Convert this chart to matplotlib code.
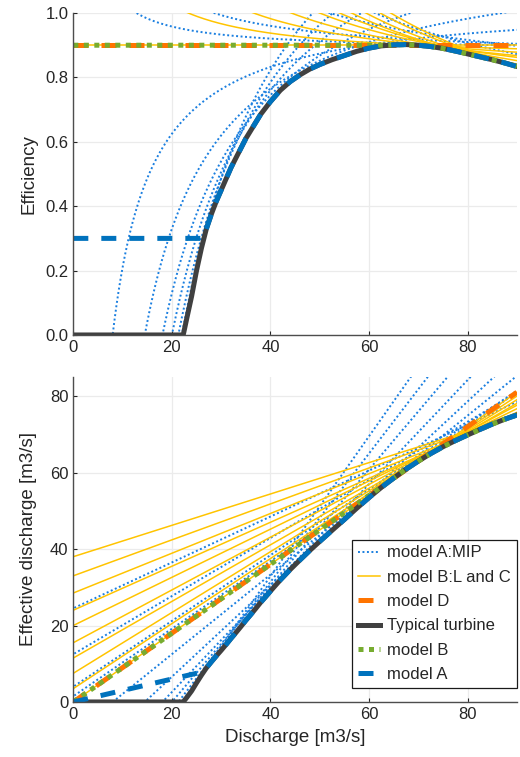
import numpy as np
import matplotlib
matplotlib.use("Agg")
import matplotlib.pyplot as plt

plt.rcParams['font.family'] = ['Liberation Sans', 'DejaVu Sans']

# typical turbine efficiency curve
q_turb = [0, 22.3, 23, 24, 25, 26, 27, 28, 29, 30, 31, 32, 33, 34, 35, 36, 37,
          38, 39, 40, 42, 44, 46, 48, 50, 52.5, 55, 57.5, 60, 62.5, 65, 67.5,
          70, 72.5, 75, 77.5, 80, 82.5, 85, 87.5, 90]
eta_turb = [0, 0, 0.05, 0.12, 0.20, 0.27, 0.33, 0.375, 0.415, 0.45, 0.485,
            0.52, 0.55, 0.58, 0.61, 0.635, 0.66, 0.685, 0.705, 0.725, 0.76,
            0.787, 0.808, 0.826, 0.84, 0.855, 0.868, 0.881, 0.891, 0.898,
            0.901, 0.902, 0.90, 0.896, 0.89, 0.882, 0.873, 0.864, 0.855,
            0.845, 0.834]

# model A: flat 0.3 then follows the turbine
i_a = q_turb.index(27)
q_a = [0, 26.4] + q_turb[i_a:]
eta_a = [0.3, 0.3] + eta_turb[i_a:]

# model B: flat 0.9 until it meets the turbine
i_b = q_turb.index(65)
q_b = [0, 63] + q_turb[i_b:]
eta_b = [0.9, 0.9] + eta_turb[i_b:]

# model D: constant 0.9
q_d = [0, 90]
eta_d = [0.9, 0.9]

# linear pieces, effective discharge = intercept + slope * Q
mip_intercept = [-8.3, -17.4, -24.6, -30.4, -35.8, -40.3, 1.5, 4.0, 12.5, 24.5]
mip_slope = [1.04, 1.20, 1.36, 1.52, 1.68, 1.83, 0.883, 0.86, 0.76, 0.60]

lc_intercept = [38.0, 33.0, 28.5, 24.0, 20.0, 15.5, 11.5, 7.5, 3.5, 0.0]
lc_slope = [0.41, 0.47, 0.52, 0.575, 0.63, 0.69, 0.74, 0.795, 0.85, 0.90]

c_blue = '#0072BD'
c_mip = '#1a7fe0'
c_yel = '#FFC400'
c_org = '#FF7400'
c_blk = '#404040'
c_grn = '#77AC30'
c_txt = '#262626'

fig = plt.figure(figsize=(5.2, 7.57), dpi=100)
ax1 = fig.add_axes([0.141, 0.5575, 0.853, 0.4253])
ax2 = fig.add_axes([0.141, 0.0727, 0.853, 0.4293])

qq = np.linspace(0.2, 90, 600)
q_turb = np.array(q_turb)


def draw(ax, eff):
    # eff=True -> efficiency, else effective discharge
    hs = []
    for i, (a, b) in enumerate(zip(mip_intercept, mip_slope)):
        y = a + b * qq
        if eff:
            y = y / qq
        h, = ax.plot(qq, y, color=c_mip, lw=1.4, linestyle=(0, (1, 1.3)),
                     label='model A:MIP' if i == 0 else None)
        if i == 0:
            hs.append(h)
    for i, (a, b) in enumerate(zip(lc_intercept, lc_slope)):
        y = a + b * qq
        if eff:
            y = y / qq
        h, = ax.plot(qq, y, '-', color=c_yel, lw=1.1,
                     label='model B:L and C' if i == 0 else None)
        if i == 0:
            hs.append(h)

    def yv(q, e):
        q = np.array(q, float)
        e = np.array(e, float)
        return e if eff else e * q

    h, = ax.plot(q_d, yv(q_d, eta_d), color=c_org, lw=3.6,
                 linestyle=(0, (3, 2.6)), dash_capstyle='butt', label='model D')
    hs.append(h)
    h, = ax.plot(q_turb, yv(q_turb, eta_turb), color=c_blk, lw=3.6,
                 label='Typical turbine')
    hs.append(h)
    h, = ax.plot(q_b, yv(q_b, eta_b), color=c_grn, lw=3.6,
                 linestyle=(0, (1, 1.1)), dash_capstyle='butt', label='model B')
    hs.append(h)
    h, = ax.plot(q_a, yv(q_a, eta_a), color=c_blue, lw=3.6,
                 linestyle=(0, (3, 2.6)), dash_capstyle='butt', label='model A')
    hs.append(h)
    return hs


def style(ax):
    ax.set_xlim(0, 90)
    ax.set_xticks([0, 20, 40, 60, 80])
    ax.grid(True, color='#ebebeb', lw=0.9)
    ax.set_axisbelow(True)
    for s in ['top', 'right']:
        ax.spines[s].set_visible(False)
    for s in ['left', 'bottom']:
        ax.spines[s].set_color('#4d4d4d')
        ax.spines[s].set_linewidth(1.0)
    ax.tick_params(direction='in', length=3, labelsize=12,
                   colors=c_txt, width=0.8)


draw(ax1, True)
style(ax1)
ax1.set_ylim(0, 1.0)
ax1.set_yticks([0, 0.2, 0.4, 0.6, 0.8, 1.0])
ax1.set_yticklabels(['0.0', '0.2', '0.4', '0.6', '0.8', '1.0'])
ax1.set_ylabel('Efficiency', fontsize=13.5, color=c_txt, labelpad=6)

hs = draw(ax2, False)
style(ax2)
ax2.set_ylim(0, 85)
ax2.set_yticks([0, 20, 40, 60, 80])
ax2.set_ylabel('Effective discharge [m3/s]', fontsize=13.5, color=c_txt, labelpad=9)
ax2.set_xlabel('Discharge [m3/s]', fontsize=13.5, color=c_txt, labelpad=5)

leg = ax2.legend(handles=hs, loc='lower right', bbox_to_anchor=(1.0, 0.043),
                 borderaxespad=0, fontsize=12, handlelength=1.3,
                 handletextpad=0.45, labelspacing=0.56, fancybox=False,
                 framealpha=1, edgecolor='#1a1a1a', borderpad=0.35)
leg.get_frame().set_linewidth(0.9)
for t in leg.get_texts():
    t.set_color(c_txt)

fig.savefig('out.png', dpi=100)
